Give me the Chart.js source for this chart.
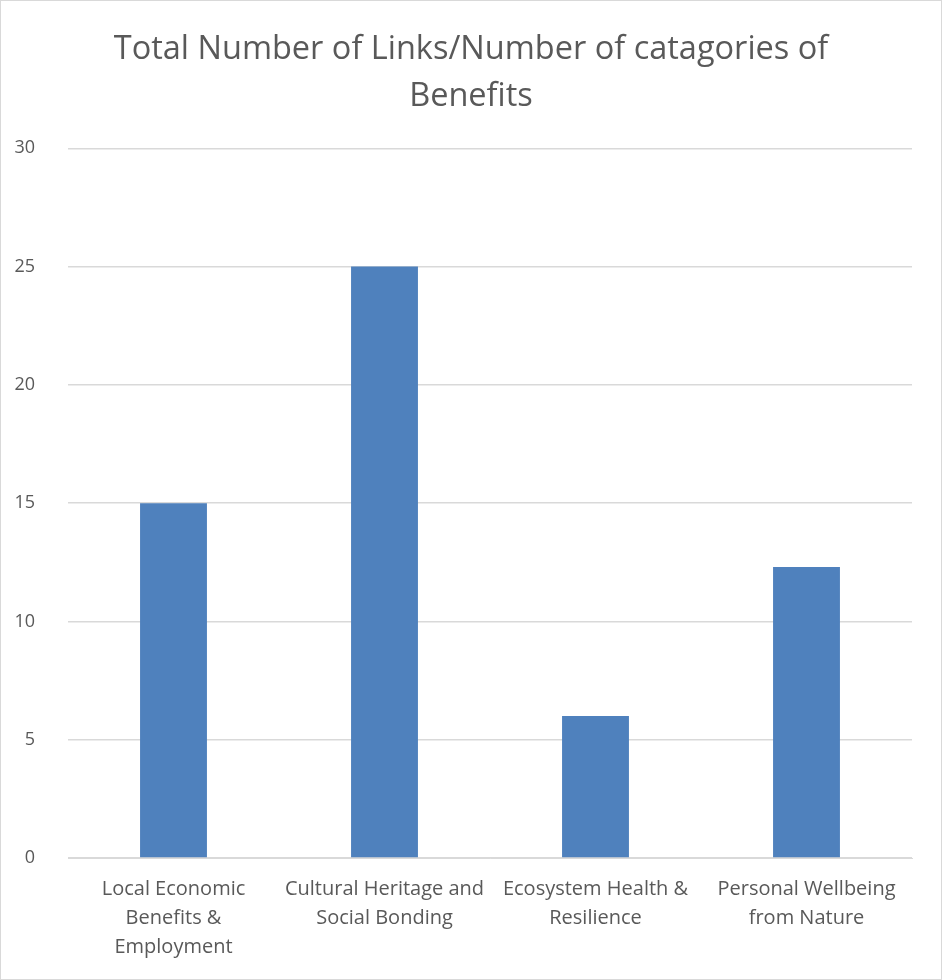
<!DOCTYPE html>
<html lang="en">
<head>
    <meta charset="UTF-8">
    <title>Links per Benefit category</title>
    <script src="https://cdn.jsdelivr.net/npm/chart.js"></script>
    <style>
        html, body { margin: 0; padding: 0; background: #fff; }
        .chart-container {
            position: relative;
            width: 940px;
            height: 978px;
            border: 1px solid #d9d9d9;
        }
    </style>
</head>
<body>
    <div class="chart-container">
        <canvas id="myChart"></canvas>
    </div>

    <script>
        // chart data
        const categories = [
            ['Local Economic', 'Benefits &', 'Employment'],
            ['Cultural Heritage and', 'Social Bonding'],
            ['Ecosystem Health &', 'Resilience'],
            ['Personal Wellbeing', 'from Nature']
        ];
        const linksPerCategory = [15, 25, 6, 12.3];
        const yTicks = [0, 5, 10, 15, 20, 25, 30];

        const textColor = '#595959';
        const fontFamily = '"Open Sans", "Noto Sans", sans-serif';

        const ctx = document.getElementById('myChart').getContext('2d');
        const chart = new Chart(ctx, {
            type: 'bar',
            data: {
                labels: categories,
                datasets: [{
                    label: 'Total Number of Links/Number of catagories of Benefits',
                    data: linksPerCategory,
                    backgroundColor: '#4f81bd',
                    borderWidth: 0,
                    categoryPercentage: 1,
                    barPercentage: 0.317
                }]
            },
            options: {
                responsive: true,
                maintainAspectRatio: false,
                animation: false,
                layout: {
                    padding: 0
                },
                plugins: {
                    legend: { display: false },
                    tooltip: { enabled: false },
                    title: {
                        display: true,
                        text: ['Total Number of Links/Number of catagories of', 'Benefits'],
                        color: textColor,
                        font: { family: fontFamily, size: 32.5, weight: 'normal', lineHeight: 1.45 },
                        padding: { top: 25, bottom: 28 }
                    }
                },
                scales: {
                    x: {
                        grid: { display: false, drawTicks: false },
                        border: { display: true, color: '#d9d9d9', width: 1 },
                        ticks: {
                            color: textColor,
                            font: { family: fontFamily, size: 20, lineHeight: 1.45 },
                            padding: 17,
                            maxRotation: 0,
                            autoSkip: false
                        },
                        afterFit: function(scale) { scale.height = 121; }
                    },
                    y: {
                        min: yTicks[0],
                        max: yTicks[yTicks.length - 1],
                        afterBuildTicks: function(scale) {
                            scale.ticks = yTicks.map(v => ({ value: v }));
                        },
                        grid: { color: '#d9d9d9', lineWidth: 1.5, drawTicks: false },
                        border: { display: false },
                        ticks: {
                            color: textColor,
                            font: { family: fontFamily, size: 18 },
                            padding: 33
                        },
                        afterFit: function(scale) { scale.width = 67; }
                    },
                    // empty right margin so the title stays centred on the canvas
                    yRight: {
                        position: 'right',
                        min: yTicks[0],
                        max: yTicks[yTicks.length - 1],
                        grid: { display: false, drawTicks: false },
                        border: { display: false },
                        ticks: { display: false },
                        afterFit: function(scale) { scale.width = 29; }
                    }
                }
            }
        });
    </script>
</body>
</html>
